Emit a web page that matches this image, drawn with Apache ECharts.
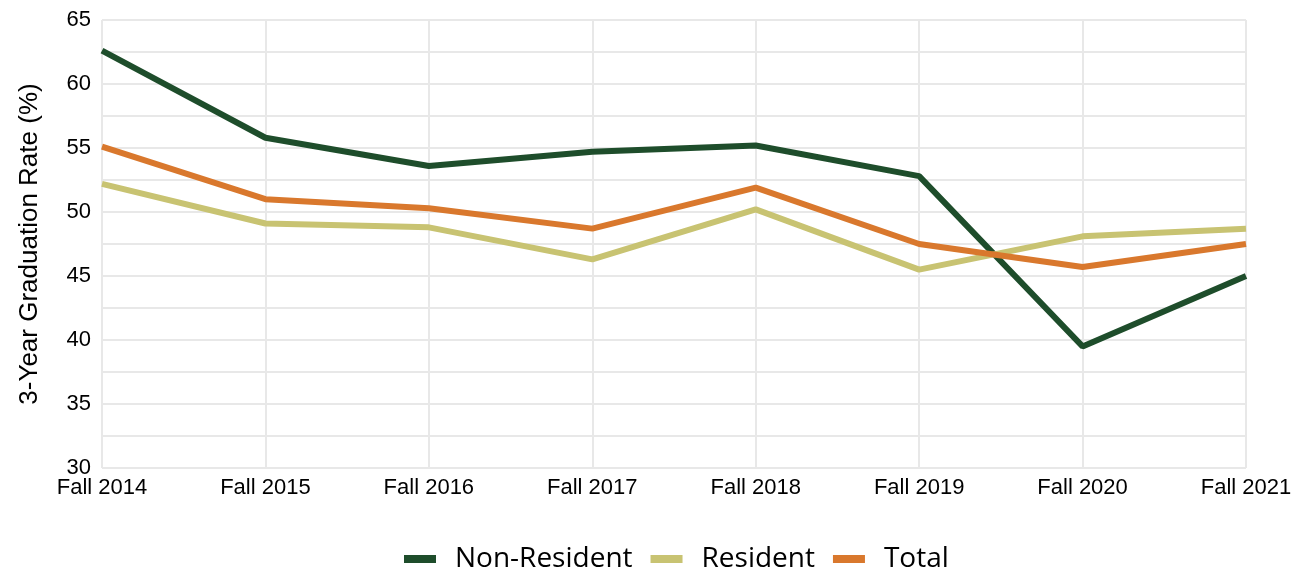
<!DOCTYPE html>
<html>
<head>
<meta charset="utf-8">
<script src="https://cdn.jsdelivr.net/npm/echarts@6/dist/echarts.min.js"></script>
<style>
  html, body { margin: 0; padding: 0; background: #fff; }
  #chart { width: 1305px; height: 571px; }
</style>
</head>
<body>
<div id="chart"></div>
<script>
// terms on the x axis
const terms = ['Fall 2014', 'Fall 2015', 'Fall 2016', 'Fall 2017', 'Fall 2018', 'Fall 2019', 'Fall 2020', 'Fall 2021'];
// 3-year graduation rate, percent
const nonResident = [62.6, 55.8, 53.6, 54.7, 55.2, 52.8, 39.5, 45.0];
const resident = [52.2, 49.1, 48.8, 46.3, 50.2, 45.5, 48.1, 48.7];
const total = [55.1, 51.0, 50.3, 48.7, 51.9, 47.5, 45.7, 47.5];

const chart = echarts.init(document.getElementById('chart'));

function lineSeries(name, data, color) {
    return {
        name: name,
        type: 'line',
        data: data,
        symbol: 'none',
        lineStyle: { width: 6, color: color },
        itemStyle: { color: color },
        emphasis: { disabled: true }
    };
}

chart.setOption({
    animation: false,
    grid: { left: 102, right: 59, top: 20, bottom: 103 },
    legend: {
        top: 540,
        left: 399,
        itemWidth: 32,
        itemHeight: 8,
        itemGap: 18,
        icon: 'rect',
        textStyle: { fontFamily: 'Open Sans', fontSize: 28, color: '#000', padding: [0, 0, 0, 14] },
        data: ['Non-Resident', 'Resident', 'Total']
    },
    xAxis: {
        type: 'category',
        data: terms,
        boundaryGap: false,
        axisLine: { show: false },
        axisTick: { show: false },
        axisLabel: { fontFamily: 'Liberation Sans', fontSize: 22, color: '#000', margin: 9 },
        splitLine: { show: true, lineStyle: { color: '#e8e8e8', width: 2 } }
    },
    yAxis: {
        type: 'value',
        min: 30,
        max: 65,
        interval: 2.5,
        name: '3-Year Graduation Rate (%)',
        nameLocation: 'middle',
        nameGap: 59,
        nameTextStyle: { fontFamily: 'Liberation Sans', fontSize: 26, color: '#000' },
        axisLine: { show: false },
        axisTick: { show: false },
        axisLabel: {
            fontFamily: 'Liberation Sans', fontSize: 22, color: '#000', margin: 11,
            formatter: v => (v % 5 === 0 ? String(v) : '')
        },
        splitLine: { show: true, lineStyle: { color: '#e8e8e8', width: 2 } }
    },
    series: [
        lineSeries('Non-Resident', nonResident, '#1e4d2b'),
        lineSeries('Resident', resident, '#c8c372'),
        lineSeries('Total', total, '#d9782d')
    ]
});
</script>
</body>
</html>
